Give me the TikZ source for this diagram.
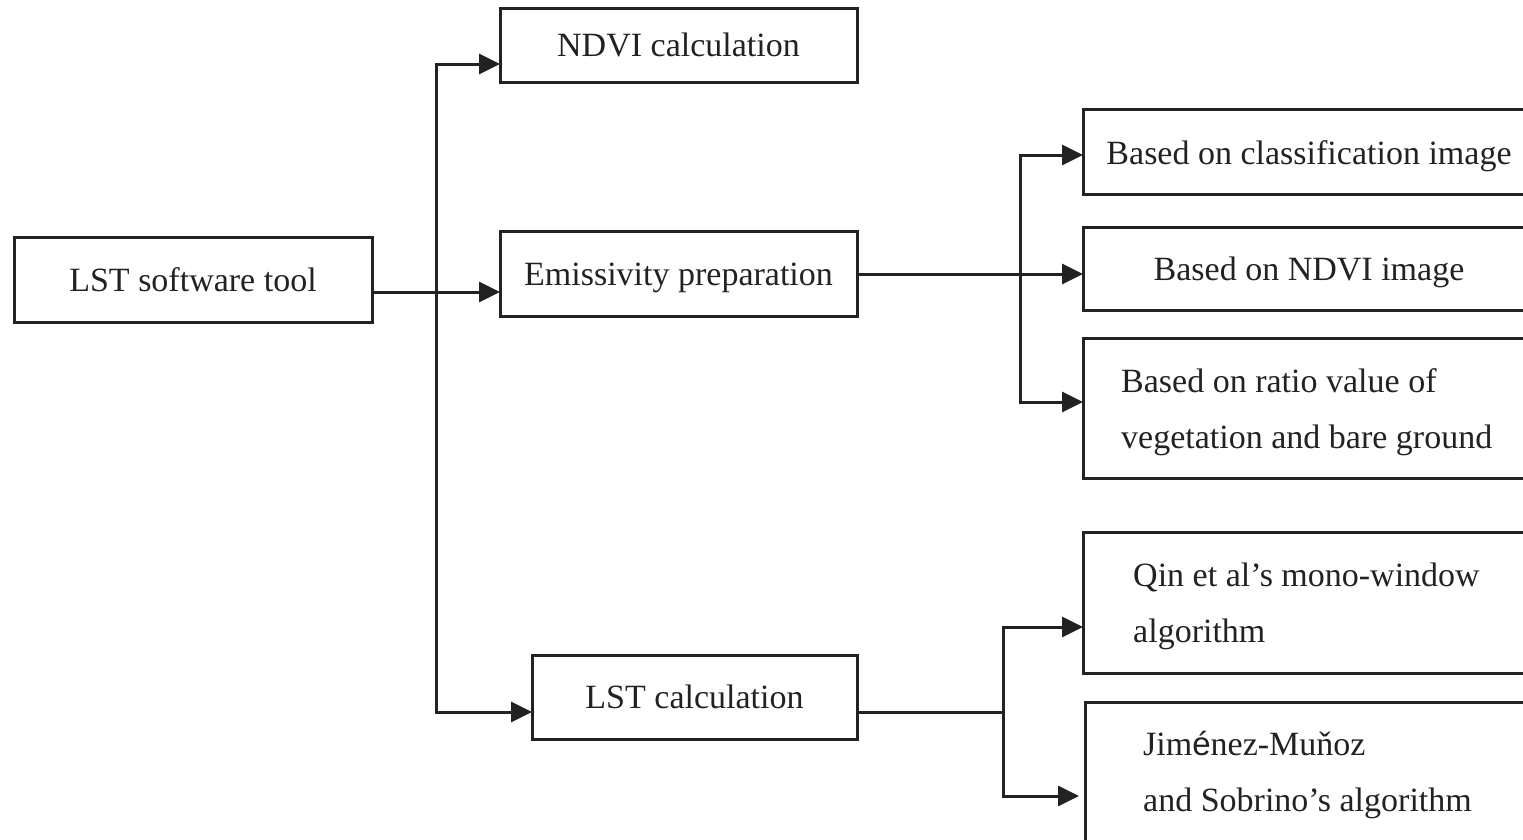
\documentclass[tikz,border=0pt]{standalone}
\usepackage{fontspec}
\setmainfont{Liberation Serif}
\newfontfamily\accentfont{Liberation Sans}
\usetikzlibrary{arrows.meta}
\definecolor{ink}{HTML}{222222}

\begin{document}
\begin{tikzpicture}[x=1pt,y=-1pt,
  box/.style={draw=ink, line width=3pt, inner sep=0pt, outer sep=0pt},
  link/.style={draw=ink, line width=3pt},
  arr/.style={link, -{Triangle[length=21pt,width=20pt]}},
  lbl/.style={font=\fontsize{34}{56}\selectfont, text=ink},
  boxlbl/.style={lbl, text height=25pt, text depth=2pt},
  txt/.style={lbl, inner sep=0pt, align=left, anchor=west}]

\path[use as bounding box] (0,0) rectangle (1523,839);
\clip (0,0) rectangle (1523,839);

% main boxes
\node[box, boxlbl, minimum width=358pt, minimum height=85pt] (tool) at (193,279.5) {LST software tool};
\node[box, boxlbl, minimum width=357pt, minimum height=74pt] (ndvi) at (678.5,45) {NDVI calculation};
\node[box, boxlbl, minimum width=357pt, minimum height=85pt] (emis) at (678.5,273.5) {Emissivity preparation};
\node[box, boxlbl, minimum width=325pt, minimum height=84pt] (lstc) at (694.5,697) {LST calculation};

% emissivity options
\node[box, anchor=north west, minimum width=520pt, minimum height=85pt] (cls) at (1083,109) {};
\node[box, anchor=north west, minimum width=520pt, minimum height=83pt] (nd) at (1083,227) {};
\node[box, anchor=north west, minimum width=520pt, minimum height=140pt] (ratio) at (1083,338) {};
\node[lbl, inner sep=0pt] (clsT) at (1309,156) {Based on classification image};
\node[lbl, inner sep=0pt] (ndT) at (1309,272) {Based on NDVI image};
\node[txt] (ratioT) at (1121,412) {Based on ratio value of\\vegetation and bare ground};

% LST algorithms
\node[box, anchor=north west, minimum width=520pt, minimum height=141pt] (qin) at (1083,532) {};
\node[box, anchor=north west, minimum width=520pt, minimum height=170pt] (jim) at (1085,702) {};
\node[txt] (qinT) at (1133,606) {Qin et al’s mono-window\\algorithm};
\node[txt] (jimT) at (1143,775) {Jim{\accentfont\fontsize{33}{56}\selectfont é}nez-Muňoz\\and Sobrino’s algorithm};

% trunk from the tool
\coordinate (t1) at (436,64);
\coordinate (t2) at (436,292);
\coordinate (t3) at (436,712);
\draw[arr] (tool.east |- t2) -- (emis.west |- t2);
\draw[arr] (t3) -- (t1) -- (ndvi.west |- t1);
\draw[arr] (t1) -- (t3) -- (lstc.west |- t3);

% emissivity branches
\coordinate (e1) at (1020,155);
\coordinate (e2) at (1020,274);
\coordinate (e3) at (1020,402);
\draw[arr] (emis.east |- e2) -- (nd.west |- e2);
\draw[arr] (e3) -- (e1) -- (cls.west |- e1);
\draw[arr] (e1) -- (e3) -- (ratio.west |- e3);

% algorithm branches
\coordinate (a1) at (1003,627);
\coordinate (a2) at (1003,712);
\coordinate (a3) at (1003,796);
\draw[link] (lstc.east |- a2) -- (a2);
\draw[arr] (a3) -- (a1) -- (qin.west |- a1);
\draw[arr] (a1) -- (a3) -- ([xshift=-6pt]jim.west |- a3);
\end{tikzpicture}
\end{document}
